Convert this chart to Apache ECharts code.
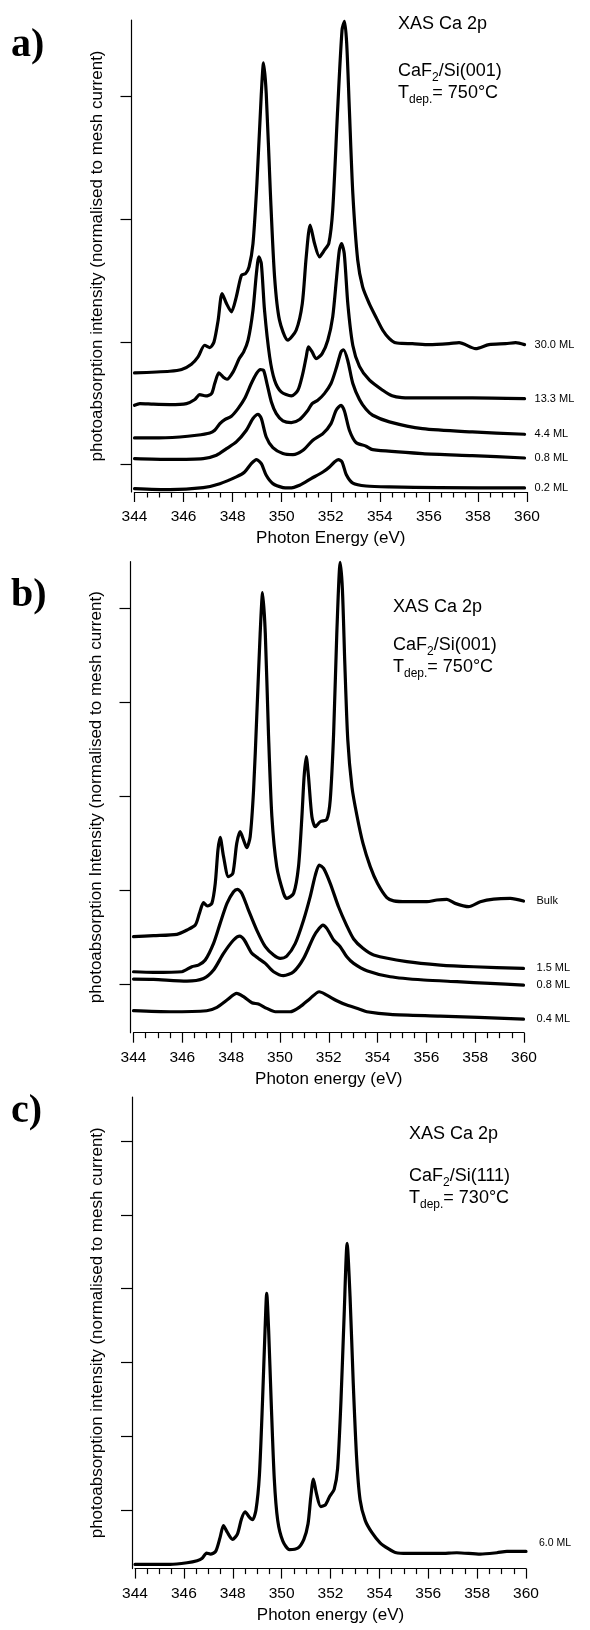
<!DOCTYPE html>
<html>
<head>
<meta charset="utf-8">
<script src="https://cdn.jsdelivr.net/npm/echarts@6/dist/echarts.min.js"></script>
<style>
html, body { margin: 0; padding: 0; background: #ffffff; }
#chart { width: 590px; height: 1630px; }
</style>
</head>
<body>
<div id="chart"></div>
<script>
// Ca 2p XAS spectra, [photon energy (eV), intensity in tick units]

// ---- panel a: CaF2/Si(001), Tdep = 750 °C ----
const a_30_0 = [[344.0,0.747],[345.44,0.760],[345.92,0.774],[346.32,0.817],[346.59,0.877],[346.86,0.972],[347.07,0.953],[347.24,0.999],[347.41,1.176],[347.57,1.393],[347.75,1.311],[347.95,1.244],[348.15,1.366],[348.36,1.542],[348.53,1.556],[348.67,1.610],[348.83,1.800],[348.99,2.289],[349.17,3.022],[349.26,3.272],[349.37,3.022],[349.54,2.207],[349.71,1.529],[349.91,1.176],[350.25,1.013],[350.59,1.094],[350.84,1.311],[351.0,1.692],[351.16,1.950],[351.34,1.800],[351.54,1.692],[351.74,1.746],[351.92,1.800],[352.08,2.072],[352.28,2.886],[352.46,3.538],[352.56,3.61],[352.65,3.429],[352.76,2.886],[352.90,2.207],[353.10,1.664],[353.30,1.447],[353.57,1.311],[353.84,1.202],[354.12,1.094],[354.39,1.025],[354.60,0.995],[354.90,0.987],[355.33,0.985],[356.01,0.977],[356.83,0.985],[357.23,0.993],[357.91,0.944],[358.45,0.977],[359.13,0.985],[359.54,0.993],[359.9,0.977]];
const a_13_3 = [[344.0,0.483],[344.22,0.497],[344.77,0.492],[345.44,0.489],[346.12,0.497],[346.46,0.530],[346.66,0.570],[346.91,0.559],[347.14,0.578],[347.27,0.660],[347.44,0.747],[347.61,0.714],[347.77,0.695],[348.02,0.755],[348.27,0.863],[348.45,0.918],[348.63,1.013],[348.83,1.257],[348.97,1.556],[349.07,1.692],[349.17,1.637],[349.30,1.257],[349.51,0.877],[349.71,0.687],[349.98,0.592],[350.39,0.559],[350.66,0.605],[350.86,0.741],[351.0,0.877],[351.09,0.958],[351.24,0.918],[351.40,0.863],[351.65,0.904],[351.88,1.013],[352.08,1.203],[352.24,1.529],[352.35,1.746],[352.44,1.800],[352.55,1.719],[352.70,1.30],[352.90,0.97],[353.17,0.80],[353.58,0.687],[354.12,0.605],[354.50,0.560],[354.90,0.546],[355.74,0.543],[357.77,0.543],[359.9,0.537]];
const a_4_4 = [[344.0,0.217],[344.77,0.217],[345.85,0.225],[346.53,0.239],[347.07,0.258],[347.27,0.280],[347.48,0.334],[347.68,0.367],[347.95,0.394],[348.22,0.456],[348.49,0.538],[348.76,0.660],[348.97,0.741],[349.13,0.774],[349.26,0.768],[349.40,0.66],[349.58,0.510],[349.78,0.415],[350.05,0.356],[350.39,0.342],[350.73,0.367],[351.07,0.443],[351.24,0.497],[351.47,0.524],[351.74,0.578],[352.01,0.660],[352.22,0.782],[352.42,0.918],[352.52,0.935],[352.69,0.85],[352.90,0.66],[353.17,0.53],[353.44,0.45],[353.71,0.402],[354.39,0.348],[355.74,0.293],[357.77,0.266],[359.9,0.247]];
const a_0_8 = [[344.0,0.049],[345.44,0.043],[346.80,0.049],[347.34,0.076],[347.75,0.130],[348.15,0.185],[348.56,0.280],[348.83,0.375],[349.04,0.410],[349.17,0.375],[349.37,0.225],[349.64,0.138],[350.05,0.090],[350.46,0.081],[350.87,0.117],[351.27,0.198],[351.68,0.252],[352.01,0.334],[352.22,0.443],[352.42,0.483],[352.56,0.435],[352.76,0.28],[353.03,0.18],[353.44,0.150],[353.71,0.122],[355.74,0.09],[357.77,0.073],[359.9,0.054]];
const a_0_2 = [[344.0,-0.195],[345.44,-0.204],[346.80,-0.187],[347.48,-0.155],[348.15,-0.100],[348.49,-0.060],[348.76,0.008],[348.97,0.041],[349.17,0.008],[349.37,-0.087],[349.64,-0.155],[350.05,-0.187],[350.32,-0.19],[350.73,-0.168],[351.20,-0.114],[351.68,-0.060],[351.95,-0.019],[352.15,0.022],[352.31,0.041],[352.46,0.022],[352.63,-0.08],[352.9,-0.15],[353.44,-0.174],[354.39,-0.182],[356.42,-0.187],[359.9,-0.19]];

// ---- panel b: CaF2/Si(001), Tdep = 750 °C ----
const b_bulk = [[344.0,0.504],[344.82,0.515],[345.78,0.529],[346.19,0.575],[346.53,0.628],[346.70,0.752],[346.87,0.866],[347.03,0.831],[347.21,0.859],[347.35,1.072],[347.46,1.427],[347.55,1.562],[347.69,1.356],[347.89,1.143],[348.07,1.178],[348.23,1.498],[348.37,1.622],[348.51,1.533],[348.64,1.452],[348.78,1.569],[348.92,2.066],[349.05,2.847],[349.19,3.734],[349.29,4.167],[349.40,3.734],[349.53,2.669],[349.67,1.782],[349.87,1.249],[350.15,0.965],[350.28,0.912],[350.56,0.965],[350.76,1.249],[350.90,1.782],[350.99,2.208],[351.08,2.421],[351.17,2.208],[351.31,1.782],[351.45,1.675],[351.65,1.728],[351.92,1.753],[352.06,1.959],[352.20,2.669],[352.33,3.734],[352.47,4.49],[352.56,4.2],[352.66,3.4],[352.78,2.6],[352.95,2.1],[353.15,1.8],[353.4,1.5],[353.7,1.25],[354.0,1.07],[354.38,0.92],[354.66,0.886],[355.20,0.877],[356.02,0.877],[356.43,0.895],[356.84,0.902],[357.18,0.859],[357.73,0.824],[358.21,0.877],[358.76,0.905],[359.44,0.912],[359.98,0.884]];
const b_1_5 = [[344.0,0.131],[344.82,0.124],[345.98,0.131],[346.39,0.185],[346.66,0.202],[346.94,0.256],[347.28,0.433],[347.55,0.646],[347.83,0.859],[348.10,0.983],[348.26,1.008],[348.44,0.965],[348.71,0.788],[349.05,0.575],[349.40,0.398],[349.74,0.309],[350.01,0.273],[350.28,0.298],[350.63,0.433],[350.97,0.682],[351.24,0.930],[351.45,1.160],[351.61,1.267],[351.79,1.231],[352.06,1.072],[352.40,0.823],[352.74,0.62],[353.02,0.48],[353.4,0.38],[353.84,0.309],[355.2,0.238],[356.57,0.202],[357.94,0.184],[359.98,0.167]];
const b_0_8 = [[344.0,0.053],[344.82,0.050],[346.19,0.032],[346.87,0.060],[347.28,0.149],[347.69,0.327],[348.10,0.469],[348.35,0.511],[348.54,0.469],[348.85,0.327],[349.12,0.273],[349.40,0.220],[349.74,0.131],[350.15,0.089],[350.56,0.131],[350.97,0.273],[351.38,0.504],[351.61,0.593],[351.76,0.628],[351.92,0.593],[352.20,0.469],[352.47,0.398],[352.74,0.29],[353.02,0.22],[353.56,0.142],[354.52,0.078],[355.89,0.043],[357.25,0.025],[358.62,0.007],[359.98,-0.011]];
const b_0_4 = [[344.0,-0.284],[345.5,-0.295],[347.0,-0.284],[347.42,-0.248],[347.83,-0.170],[348.23,-0.099],[348.51,-0.135],[348.85,-0.199],[349.12,-0.213],[349.46,-0.259],[349.81,-0.295],[350.42,-0.295],[350.83,-0.241],[351.24,-0.153],[351.61,-0.082],[351.92,-0.118],[352.33,-0.178],[352.74,-0.224],[353.29,-0.27],[353.56,-0.295],[354.52,-0.323],[356.57,-0.341],[359.98,-0.373]];

// ---- panel c: CaF2/Si(111), Tdep = 730 °C ----
const c_6_0 = [[344.0,-0.737],[344.76,-0.737],[345.44,-0.737],[346.13,-0.714],[346.54,-0.686],[346.75,-0.653],[346.93,-0.583],[347.09,-0.597],[347.30,-0.560],[347.48,-0.373],[347.62,-0.210],[347.78,-0.303],[347.99,-0.396],[348.19,-0.326],[348.36,-0.117],[348.51,-0.023],[348.67,-0.093],[348.81,-0.131],[348.95,0.0],[349.09,0.466],[349.22,1.493],[349.32,2.425],[349.39,2.938],[349.47,2.425],[349.57,1.493],[349.70,0.420],[349.84,-0.140],[350.05,-0.420],[350.32,-0.536],[350.67,-0.513],[350.91,-0.396],[351.08,-0.187],[351.19,0.163],[351.30,0.420],[351.42,0.233],[351.60,0.047],[351.79,0.070],[351.97,0.187],[352.15,0.280],[352.29,0.560],[352.43,1.493],[352.56,2.659],[352.68,3.615],[352.80,2.892],[352.93,1.726],[353.07,0.70],[353.21,0.14],[353.42,-0.140],[353.69,-0.303],[354.03,-0.443],[354.38,-0.527],[354.65,-0.574],[355.13,-0.588],[356.49,-0.588],[357.17,-0.578],[358.13,-0.597],[358.81,-0.578],[359.22,-0.560],[360.0,-0.560]];

// tick positions on the (unlabelled) intensity axes
const ticksA = [0, 1, 2, 3];
const ticksB = [0, 1, 2, 3, 4];
const ticksC = [0, 1, 2, 3, 4, 5];

// energy axis range
const energyMin = 344;
const energyMax = 360;
const energyStep = 2;

const FONT = '"Liberation Sans", Arial, Helvetica, sans-serif';
const SERIF = '"Liberation Serif", "Times New Roman", Times, serif';
const INK = '#000000';

const panels = [
  {
    grid: { left: 134.5, top: 20, width: 392.5, height: 472 },
    yMin: -0.223, yMax: 3.62, ticks: ticksA,
    yName: 'photoabsorption intensity (normalised to mesh current)',
    xName: 'Photon Energy (eV)',
    curves: [['30.0 ML', a_30_0], ['13.3 ML', a_13_3], ['4.4 ML', a_4_4], ['0.8 ML', a_0_8], ['0.2 ML', a_0_2]],
    labelDistance: 10, labelShift: 0, labelSize: 11
  },
  {
    grid: { left: 133.5, top: 561.7, width: 390.5, height: 471 },
    yMin: -0.518, yMax: 4.497, ticks: ticksB,
    yName: 'photoabsorption Intensity (normalised to mesh current)',
    xName: 'Photon energy (eV)',
    curves: [['Bulk', b_bulk], ['1.5 ML', b_1_5], ['0.8 ML', b_0_8], ['0.4 ML', b_0_4]],
    labelDistance: 13, labelShift: 0, labelSize: 11
  },
  {
    grid: { left: 135, top: 1097, width: 391, height: 471.6 },
    yMin: -0.793, yMax: 5.597, ticks: ticksC,
    yName: 'photoabsorption intensity (normalised to mesh current)',
    xName: 'Photon energy (eV)',
    curves: [['6.0 ML', c_6_0]],
    labelDistance: 13, labelShift: -8, labelSize: 10.5
  }
];

const grids = [], xAxes = [], yAxes = [], series = [];

panels.forEach(function (p, i) {
  grids.push(Object.assign({ containLabel: false }, p.grid));
  xAxes.push({
    gridIndex: i, type: 'value',
    min: energyMin, max: energyMax, interval: energyStep,
    axisLine: { show: true, onZero: false, lineStyle: { color: INK, width: 1.2 } },
    axisTick: { show: true, length: 10, lineStyle: { color: INK, width: 1.2 } },
    minorTick: { show: true, splitNumber: 4, length: 5.5, lineStyle: { color: INK, width: 1.2 } },
    axisLabel: { color: INK, fontSize: 15.5, fontFamily: FONT, margin: 17 },
    splitLine: { show: false },
    minorSplitLine: { show: false },
    name: p.xName, nameLocation: 'middle', nameGap: 38,
    nameTextStyle: { color: INK, fontSize: 17, fontFamily: FONT }
  });
  yAxes.push({
    gridIndex: i, type: 'value',
    min: p.yMin, max: p.yMax, offset: 3,
    axisLine: { show: true, onZero: false, lineStyle: { color: INK, width: 1.2 } },
    axisTick: { show: true, inside: false, length: 11, customValues: p.ticks, lineStyle: { color: INK, width: 1.2 } },
    axisLabel: { show: false, customValues: p.ticks },
    splitLine: { show: false },
    name: p.yName, nameLocation: 'middle', nameGap: 26,
    nameTextStyle: { color: INK, fontSize: 17, fontFamily: FONT }
  });
  p.curves.forEach(function (c) {
    series.push({
      type: 'line', name: c[0], data: c[1],
      xAxisIndex: i, yAxisIndex: i,
      showSymbol: false, symbol: 'none',
      smooth: 0.25,
      clip: false,
      lineStyle: { color: INK, width: 3.2, join: 'round', cap: 'round' },
      endLabel: {
        show: true, formatter: c[0], color: INK,
        fontSize: p.labelSize, fontFamily: FONT,
        distance: p.labelDistance, offset: [0, p.labelShift]
      },
      emphasis: { disabled: true }
    });
  });
});

// panel letters and sample annotations
function letter(txt, x, y) {
  return {
    type: 'text', x: x, y: y, silent: true,
    style: { text: txt, fill: INK, fontFamily: SERIF, fontWeight: 'bold', fontSize: 40, align: 'left', verticalAlign: 'middle' }
  };
}
const richStyle = {
  n: { fontSize: 18, fontFamily: FONT, fill: INK, lineHeight: 26 },
  s: { fontSize: 12, fontFamily: FONT, fill: INK, lineHeight: 13, verticalAlign: 'bottom' }
};
function note(txt, x, y) {
  return {
    type: 'text', x: x, y: y, silent: true,
    style: { text: txt, rich: richStyle, fill: INK, fontFamily: FONT, fontSize: 18, align: 'left', verticalAlign: 'middle' }
  };
}

const graphic = [
  letter('a)', 11, 46),
  note('{n|XAS Ca 2p}', 398, 24),
  note('{n|CaF}{s|2}{n|/Si(001)}', 398, 71),
  note('{n|T}{s|dep.}{n|= 750°C}', 398, 93),

  letter('b)', 11, 596),
  note('{n|XAS Ca 2p}', 393, 607),
  note('{n|CaF}{s|2}{n|/Si(001)}', 393, 645),
  note('{n|T}{s|dep.}{n|= 750°C}', 393, 667),

  letter('c)', 11, 1112),
  note('{n|XAS Ca 2p}', 409, 1134),
  note('{n|CaF}{s|2}{n|/Si(111)}', 409, 1176),
  note('{n|T}{s|dep.}{n|= 730°C}', 409, 1198)
];

const chart = echarts.init(document.getElementById('chart'), null, { renderer: 'canvas' });
chart.setOption({
  animation: false,
  backgroundColor: '#ffffff',
  grid: grids,
  xAxis: xAxes,
  yAxis: yAxes,
  series: series,
  graphic: graphic,
  tooltip: { show: false }
});
</script>
</body>
</html>
